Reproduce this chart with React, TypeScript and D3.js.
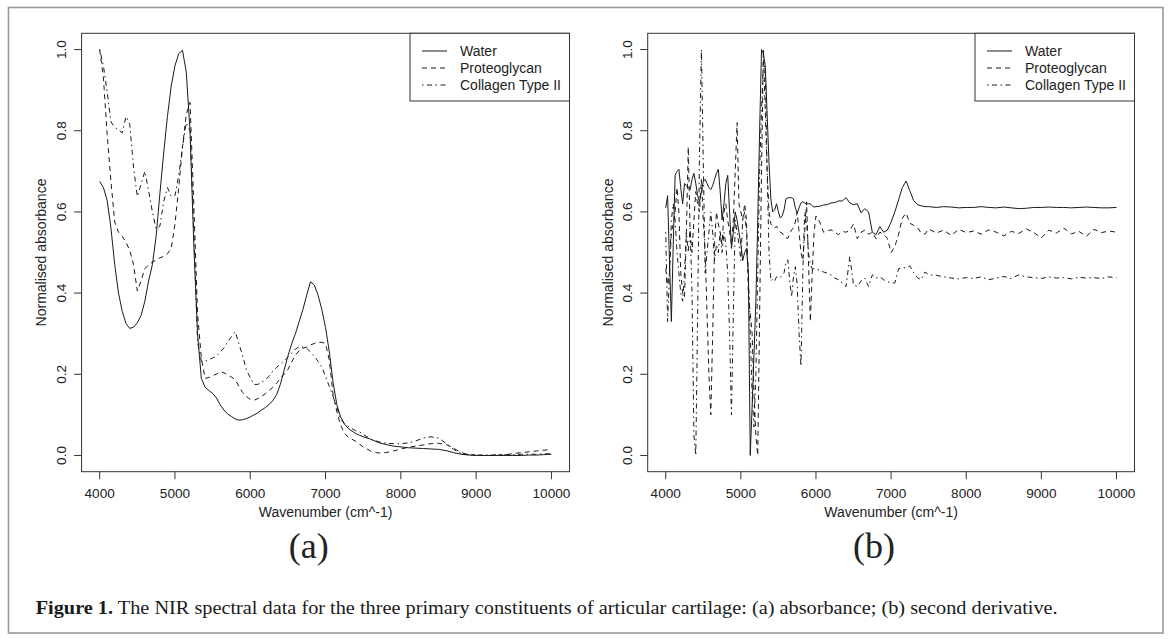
import React from 'react';
import * as d3 from 'd3';

// panel (a): absorbance, sampled wavenumbers (cm^-1)
const absWave = [
  4000, 4050, 4100, 4150, 4200, 4250, 4300, 4350, 4400, 4450,
  4500, 4550, 4600, 4650, 4700, 4750, 4800, 4850, 4900, 4950,
  5000, 5050, 5100, 5150, 5200, 5250, 5300, 5350, 5400, 5450,
  5500, 5550, 5600, 5650, 5700, 5750, 5800, 5850, 5900, 5950,
  6000, 6050, 6100, 6150, 6200, 6250, 6300, 6350, 6400, 6450,
  6500, 6550, 6600, 6650, 6700, 6750, 6800, 6850, 6900, 6950,
  7000, 7050, 7100, 7150, 7200, 7250, 7300, 7350, 7400, 7450,
  7500, 7600, 7700, 7800, 7900, 8000, 8100, 8200, 8300, 8400,
  8500, 8600, 8700, 8800, 8900, 9000, 9100, 9200, 9300, 9400,
  9500, 9600, 9700, 9800, 9900, 10000,
];
const absWater = [
  0.675, 0.66, 0.628, 0.56, 0.47, 0.4, 0.355, 0.325, 0.313, 0.316,
  0.327, 0.345, 0.38, 0.43, 0.47, 0.54, 0.645, 0.745, 0.835, 0.91,
  0.96, 0.99, 0.998, 0.945, 0.8, 0.52, 0.3, 0.19, 0.168, 0.16,
  0.153, 0.142, 0.125, 0.112, 0.102, 0.096, 0.09, 0.087, 0.088, 0.091,
  0.095, 0.1, 0.105, 0.112, 0.118, 0.126, 0.135, 0.15, 0.175, 0.21,
  0.245, 0.275, 0.3, 0.33, 0.36, 0.395, 0.428, 0.42, 0.395, 0.36,
  0.315, 0.255, 0.18, 0.125, 0.095, 0.078, 0.067, 0.06, 0.054, 0.05,
  0.046, 0.04, 0.032, 0.027, 0.023, 0.021, 0.019, 0.018, 0.017, 0.016,
  0.015, 0.012, 0.007, 0.003, 0.001, 0, 0, 0, 0, 0,
  0, 0, 0.001, 0.001, 0.002, 0.003,
];
const absProteo = [
  1.0, 0.93, 0.79, 0.675, 0.575, 0.55, 0.54, 0.525, 0.505, 0.47,
  0.405, 0.43, 0.46, 0.47, 0.476, 0.482, 0.487, 0.49, 0.497, 0.51,
  0.57, 0.66, 0.76, 0.84, 0.87, 0.62, 0.35, 0.24, 0.19, 0.192,
  0.197, 0.2, 0.206, 0.204, 0.198, 0.193, 0.187, 0.17, 0.155, 0.145,
  0.138, 0.136, 0.14, 0.146, 0.152, 0.16, 0.168, 0.178, 0.19, 0.2,
  0.212, 0.23, 0.248, 0.258, 0.264, 0.267, 0.272, 0.276, 0.278, 0.279,
  0.275, 0.235, 0.15, 0.108, 0.075, 0.055, 0.045, 0.04, 0.035, 0.028,
  0.021, 0.011, 0.006, 0.007, 0.011, 0.016, 0.02, 0.023, 0.026, 0.029,
  0.03, 0.027, 0.018, 0.007, 0.002, 0.001, 0, 0, 0.001, 0.002,
  0.005, 0.007, 0.009, 0.011, 0.013, 0.015,
];
const absCollagen = [
  1.0, 0.96, 0.895, 0.822, 0.808, 0.802, 0.795, 0.835, 0.815, 0.71,
  0.638, 0.668, 0.7, 0.652, 0.6, 0.558, 0.565, 0.625, 0.66, 0.638,
  0.64, 0.69, 0.76, 0.82, 0.8, 0.55, 0.28, 0.232, 0.232, 0.236,
  0.24, 0.245, 0.255, 0.265, 0.28, 0.293, 0.305, 0.275, 0.245, 0.21,
  0.192, 0.175, 0.175, 0.18, 0.187, 0.195, 0.208, 0.217, 0.225, 0.233,
  0.242, 0.252, 0.262, 0.268, 0.267, 0.264, 0.255, 0.245, 0.232, 0.218,
  0.195, 0.17, 0.145, 0.118, 0.09, 0.078, 0.072, 0.066, 0.061, 0.058,
  0.052, 0.04, 0.034, 0.03, 0.029, 0.029, 0.031, 0.036, 0.043, 0.046,
  0.043, 0.03, 0.015, 0.005, 0.002, 0.001, 0.001, 0.001, 0.002, 0.002,
  0.002, 0.003, 0.003, 0.003, 0.004, 0.004,
];

// panel (b): second derivative, sampled wavenumbers
const derWave = [
  4000, 4025, 4050, 4075, 4100, 4125, 4150, 4175, 4200, 4225,
  4250, 4275, 4300, 4325, 4350, 4375, 4400, 4425, 4450, 4475,
  4500, 4525, 4550, 4575, 4600, 4625, 4650, 4675, 4700, 4725,
  4750, 4775, 4800, 4825, 4850, 4875, 4900, 4925, 4950, 4975,
  5000, 5025, 5050, 5075, 5100, 5125, 5150, 5175, 5200, 5225,
  5250, 5275, 5300, 5325, 5350, 5375, 5400, 5425, 5450, 5475,
  5500, 5525, 5550, 5575, 5600, 5625, 5650, 5675, 5700, 5725,
  5750, 5775, 5800, 5825, 5850, 5875, 5900, 5925, 5950, 5975,
  6000,
  6050, 6100, 6150, 6200, 6250, 6300, 6350, 6400, 6450, 6500,
  6550, 6600, 6650, 6700, 6750, 6800, 6850, 6900, 6950, 7000,
  7050, 7100, 7150, 7200, 7250, 7300, 7350, 7400, 7450, 7500,
  7600, 7700, 7800, 7900, 8000, 8100, 8200, 8300, 8400, 8500,
  8600, 8700, 8800, 8900, 9000, 9100, 9200, 9300, 9400, 9500,
  9600, 9700, 9800, 9900, 10000,
];
const derWater = [
  0.61, 0.64, 0.48, 0.33, 0.52, 0.69, 0.7, 0.705, 0.66, 0.62,
  0.67, 0.665, 0.66, 0.655, 0.68, 0.695, 0.67, 0.64, 0.625, 0.65,
  0.675, 0.68, 0.67, 0.66, 0.655, 0.665, 0.68, 0.695, 0.705, 0.65,
  0.58, 0.62, 0.67, 0.69, 0.6, 0.51, 0.55, 0.6, 0.58, 0.55,
  0.52, 0.48, 0.5, 0.51, 0.45, 0.0, 0.12, 0.25, 0.38, 0.58,
  0.8, 1.0, 0.99, 0.96, 0.84, 0.72, 0.63, 0.6, 0.605, 0.62,
  0.6, 0.585, 0.59, 0.605, 0.632, 0.635, 0.635, 0.635, 0.632, 0.61,
  0.597, 0.61, 0.622, 0.625, 0.622, 0.62, 0.62, 0.62, 0.615, 0.612,
  0.613,
  0.614, 0.617, 0.618, 0.622, 0.623, 0.627, 0.627, 0.635, 0.622, 0.618,
  0.62, 0.598, 0.608, 0.6, 0.55, 0.544, 0.564, 0.55, 0.555, 0.575,
  0.6, 0.63, 0.66, 0.676, 0.652, 0.628, 0.618, 0.615, 0.613, 0.613,
  0.611, 0.613, 0.612, 0.61, 0.611, 0.611, 0.613, 0.611, 0.61, 0.612,
  0.61, 0.608, 0.609, 0.611, 0.611, 0.612, 0.611, 0.611, 0.61, 0.611,
  0.612, 0.611, 0.61, 0.61, 0.611,
];
const derProteo = [
  0.46, 0.42, 0.45, 0.55, 0.57, 0.6, 0.66, 0.6, 0.45, 0.4,
  0.39, 0.55, 0.76, 0.55, 0.5, 0.58, 0.65, 0.62, 0.6, 0.68,
  0.58, 0.5, 0.35, 0.2, 0.1, 0.3, 0.52, 0.6, 0.57, 0.55,
  0.52, 0.6, 0.62, 0.58, 0.55, 0.52, 0.58, 0.7, 0.82, 0.62,
  0.6, 0.58, 0.62, 0.58, 0.4, 0.35, 0.3, 0.15, 0.05, 0.0,
  0.35, 0.7, 1.0, 0.85, 0.7, 0.6, 0.57, 0.565, 0.56, 0.565,
  0.555, 0.55, 0.548, 0.54, 0.536, 0.535, 0.545, 0.556, 0.56, 0.575,
  0.6, 0.55, 0.5, 0.48, 0.55, 0.625, 0.48, 0.33, 0.45, 0.55,
  0.59,
  0.575, 0.55, 0.553, 0.556, 0.55, 0.544, 0.552, 0.55, 0.555, 0.57,
  0.534, 0.55, 0.555, 0.545, 0.55, 0.534, 0.55, 0.545, 0.535, 0.5,
  0.515, 0.545, 0.585, 0.597, 0.572, 0.567, 0.562, 0.548, 0.545, 0.558,
  0.548, 0.555, 0.542, 0.557, 0.549, 0.553, 0.545, 0.556, 0.55, 0.541,
  0.552, 0.547, 0.558, 0.549, 0.536, 0.555, 0.548, 0.56, 0.546, 0.552,
  0.54, 0.557, 0.549, 0.553, 0.55,
];
const derCollagen = [
  0.55, 0.33, 0.45, 0.58, 0.62, 0.58, 0.5, 0.45, 0.4, 0.38,
  0.45, 0.55, 0.5, 0.56, 0.4, 0.05, 0.0, 0.35, 0.75, 1.0,
  0.72, 0.45, 0.5, 0.55, 0.6, 0.55, 0.48, 0.52, 0.5, 0.55,
  0.5, 0.55, 0.52, 0.45, 0.3, 0.1, 0.35, 0.58, 0.55, 0.52,
  0.48, 0.58, 0.6, 0.55, 0.45, 0.3, 0.15, 0.07, 0.2, 0.45,
  0.7, 0.85, 0.97, 0.95, 0.7, 0.5, 0.43, 0.435, 0.43, 0.44,
  0.44, 0.438, 0.445, 0.45, 0.475, 0.482, 0.43, 0.39, 0.44, 0.465,
  0.42, 0.3, 0.22, 0.45, 0.6, 0.58, 0.5, 0.47, 0.46, 0.46,
  0.458,
  0.457, 0.452, 0.449, 0.445, 0.437, 0.433, 0.425, 0.416, 0.49, 0.42,
  0.416, 0.43, 0.437, 0.416, 0.445, 0.437, 0.44, 0.433, 0.428, 0.425,
  0.425, 0.46, 0.463, 0.462, 0.467, 0.45, 0.438, 0.433, 0.452, 0.445,
  0.444, 0.44, 0.437, 0.435, 0.438, 0.436, 0.44, 0.433, 0.437, 0.441,
  0.436, 0.445, 0.44, 0.438, 0.436, 0.44, 0.437, 0.438, 0.435, 0.439,
  0.437, 0.438, 0.436, 0.44, 0.437,
];

const seriesNames = ['Water', 'Proteoglycan', 'Collagen Type II'];
const xTicks = [4000, 5000, 6000, 7000, 8000, 9000, 10000];
const yTicks = [0, 0.2, 0.4, 0.6, 0.8, 1.0];

// R lty 1, 2, 4
const dashes = ['none', '5,4', '1.5,3.5,5,3.5'];
const sans = "'Liberation Sans', Arial, Helvetica, sans-serif";
const serif = "'Liberation Serif', 'Times New Roman', serif";

const TOP = 33.3;
const BOTTOM = 471.7;

function Panel({ left, right, wave, values, tag, tagX }) {
  const x = d3.scaleLinear().domain([3760, 10240]).range([left, right]);
  const y = d3.scaleLinear().domain([-0.04, 1.04]).range([BOTTOM, TOP]);
  const line = d3
    .line<number>()
    .x((d, i) => x(wave[i]))
    .y((d) => y(d));

  const legW = 159.5;
  const legL = right - legW;

  return (
    <g>
      {/* axes ticks and labels */}
      {xTicks.map((t) => (
        <g key={t}>
          <line x1={x(t)} x2={x(t)} y1={BOTTOM} y2={BOTTOM + 7.5} stroke="#333" />
          <text x={x(t)} y={497.7} textAnchor="middle" fontSize={13.6} fill="#222" fontFamily={sans}>
            {t}
          </text>
        </g>
      ))}
      {yTicks.map((t) => (
        <g key={t}>
          <line x1={left - 7.5} x2={left} y1={y(t)} y2={y(t)} stroke="#333" />
          <text
            transform={`translate(${left - 20.3},${y(t)}) rotate(-90)`}
            dy="0.36em"
            textAnchor="middle"
            fontSize={13.6}
            fill="#222"
            fontFamily={sans}
          >
            {t.toFixed(1)}
          </text>
        </g>
      ))}
      <text x={(left + right) / 2} y={517.3} textAnchor="middle" fontSize={14} fill="#222" fontFamily={sans}>
        Wavenumber (cm^-1)
      </text>
      <text
        transform={`translate(${left - 40.2},${(y(0) + y(1)) / 2}) rotate(-90)`}
        dy="0.36em"
        textAnchor="middle"
        fontSize={14}
        fill="#222"
        fontFamily={sans}
      >
        Normalised absorbance
      </text>

      {/* spectra */}
      {values.map((v, i) => (
        <path
          key={i}
          d={line(v)}
          fill="none"
          stroke="#1a1a1a"
          strokeWidth={1}
          strokeDasharray={dashes[i]}
        />
      ))}

      <rect x={left} y={TOP} width={right - left} height={BOTTOM - TOP} fill="none" stroke="#333" strokeWidth={1} />

      {/* legend */}
      <rect x={legL} y={TOP} width={legW} height={67.7} fill="#fff" stroke="#333" strokeWidth={1} />
      {seriesNames.map((name, i) => (
        <g key={name}>
          <line
            x1={legL + 12}
            x2={legL + 37}
            y1={TOP + 17.7 + i * 17}
            y2={TOP + 17.7 + i * 17}
            stroke="#1a1a1a"
            strokeDasharray={dashes[i]}
          />
          <text x={legL + 50} y={TOP + 17.7 + i * 17} dy="0.36em" fontSize={14} fill="#222" fontFamily={sans}>
            {name}
          </text>
        </g>
      ))}

      <text x={tagX} y={558} textAnchor="middle" fontSize={36} fill="#222" fontFamily={serif}>
        {tag}
      </text>
    </g>
  );
}

export default function App() {
  return (
    <svg
      width={1171}
      height={639}
      style={{ position: 'absolute', left: 0, top: 0, background: '#fff' }}
    >
      <rect x={8.5} y={7.5} width={1154.5} height={625.5} fill="#fff" stroke="#9a9a9a" strokeWidth={1.6} />
      <Panel
        left={81.6}
        right={569.5}
        wave={absWave}
        values={[absWater, absProteo, absCollagen]}
        tag="(a)"
        tagX={308.8}
      />
      <Panel
        left={647.7}
        right={1134.5}
        wave={derWave}
        values={[derWater, derProteo, derCollagen]}
        tag="(b)"
        tagX={874}
      />
      <text x={35.7} y={613.5} fontSize={18} fill="#1a1a1a" fontFamily={serif} textLength={1022} lengthAdjust="spacingAndGlyphs">
        <tspan fontWeight="bold">Figure 1.</tspan> The NIR spectral data for the three primary constituents of articular
        cartilage: (a) absorbance; (b) second derivative.
      </text>
    </svg>
  );
}
